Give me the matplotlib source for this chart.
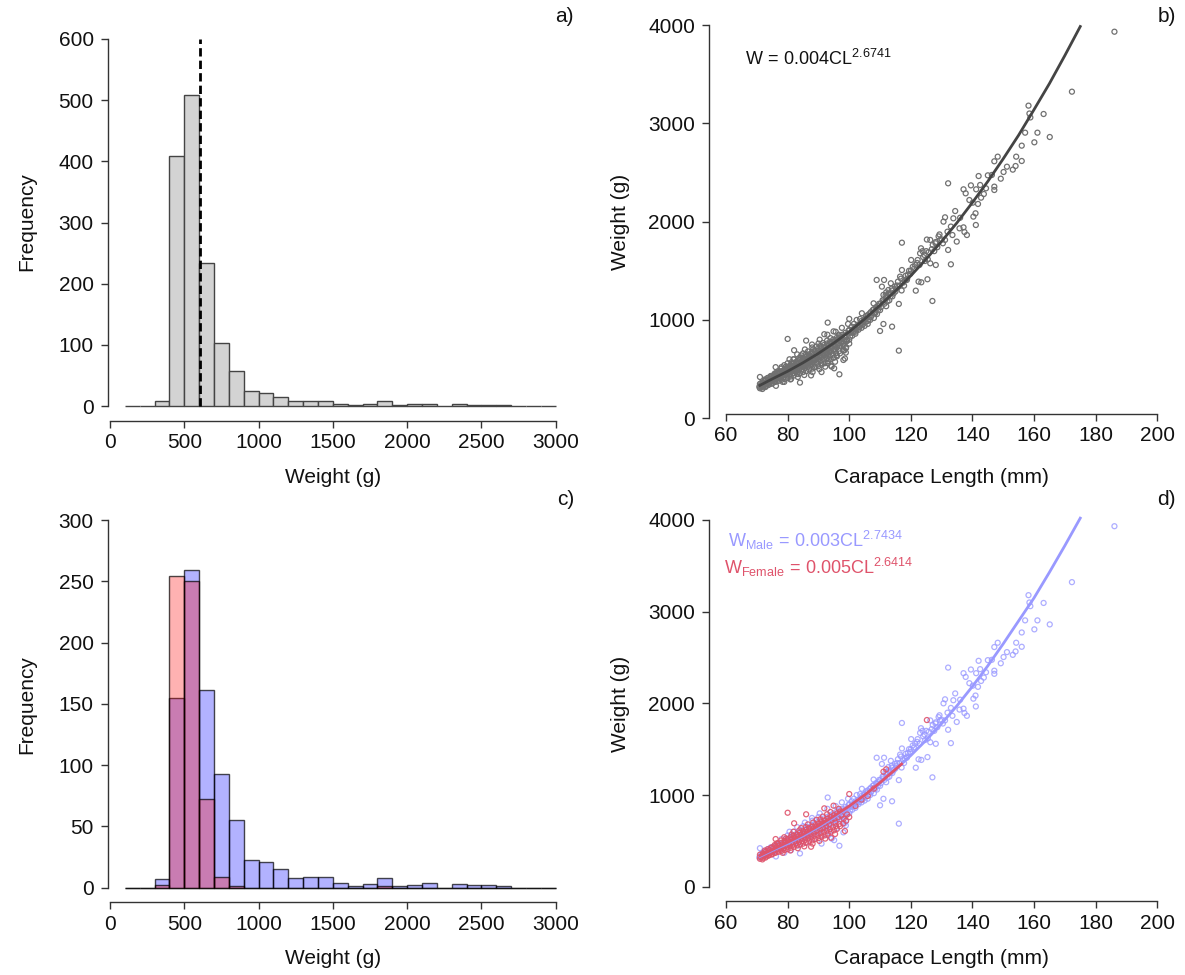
import matplotlib
matplotlib.use("Agg")
import matplotlib.pyplot as plt
import numpy as np

plt.rcParams["font.family"] = ["Liberation Sans", "DejaVu Sans"]
plt.rcParams["mathtext.fontset"] = "custom"
plt.rcParams["mathtext.rm"] = "Liberation Sans"
plt.rcParams["mathtext.it"] = "Liberation Sans:italic"

# ---- histogram data (bins of 100 g from 100 to 3000 g) ----
bin_left = list(range(100, 3000, 100))
count_all = [0, 0, 9, 409, 509, 233, 103, 57, 24, 22, 15, 8, 9, 9, 4, 1, 3, 9,
             1, 3, 4, 0, 3, 2, 2, 1, 0, 0, 0]
count_male = [0, 0, 7, 155, 259, 161, 93, 55, 23, 21, 15, 8, 9, 9, 4, 1, 3, 8,
              1, 2, 4, 0, 3, 2, 2, 1, 0, 0, 0]
count_female = [0, 0, 2, 254, 250, 72, 9, 1, 0, 0, 0, 0, 0, 0, 0, 0, 0, 1,
                0, 0, 0, 0, 0, 0, 0, 0, 0, 0, 0]
mean_weight = 605

# ---- length-weight points (CL mm, W g) ----
female_points = [
    (71, 305), (71, 350), (71.5, 330), (72, 315), (72, 365), (72.5, 340), (73, 330),
    (73, 385), (73.5, 355), (74, 345), (74, 400), (74.5, 370),
    (75, 355), (75, 430), (75.5, 395), (76, 370), (76, 445), (76.1, 520), (76.5, 410),
    (77, 380), (77, 465), (77.5, 425), (78, 390), (78, 480), (78.5, 440), (79, 400),
    (79, 500), (79.5, 455),
    (80, 410), (80, 520), (80, 807), (80.5, 465), (81, 425), (81, 540), (81.5, 485),
    (82, 435), (82, 555), (82.1, 692), (82.5, 500), (83, 450), (83, 570), (83.5, 515),
    (84, 460), (84, 590), (84.5, 530),
    (85, 470), (85, 605), (85.5, 545), (86, 480), (86, 620), (86, 790), (86.5, 560),
    (87, 495), (87, 640), (87.5, 575), (87.6, 436), (88, 505), (88, 655), (88.5, 590),
    (89, 520), (89, 670), (89.5, 610),
    (90, 530), (90, 690), (90.5, 625), (91, 545), (91, 705), (91.5, 640), (91.9, 855),
    (92, 560), (92, 725), (92.5, 660), (93, 580), (93, 745), (93.5, 680), (94, 600),
    (94, 760), (94.1, 535), (94.9, 884),
    (95, 615), (95, 780), (95.5, 700), (96, 630), (96, 800), (97, 660), (97, 820),
    (98, 690), (98.6, 608), (99, 720), (100, 760), (100, 1011),
    (102, 880), (104, 950), (106, 990), (108, 1070), (111.1, 1255), (112, 1281),
    (125.2, 1818),
    (71.2, 322), (71.8, 298), (72.3, 352), (72.8, 318), (73.2, 362), (73.7, 338),
    (74.2, 372), (74.8, 352), (75.2, 412), (75.7, 368), (76.3, 428), (76.8, 392),
    (77.2, 448), (77.8, 404), (78.2, 462), (78.7, 418), (79.2, 478), (79.8, 436),
    (80.2, 496), (80.7, 448), (81.2, 512), (81.7, 458), (82.2, 528), (82.7, 472),
    (83.2, 546), (83.7, 488), (84.2, 562), (84.7, 498), (85.2, 578), (85.7, 512),
    (86.2, 592), (86.7, 528), (87.2, 612), (87.7, 540), (88.2, 628), (88.7, 556),
    (89.2, 646), (89.7, 566), (90.2, 662), (90.7, 584), (91.2, 678), (91.7, 598),
    (92.2, 694), (92.7, 612), (93.2, 712), (93.7, 628), (94.2, 728), (94.7, 648),
    (95.2, 742), (95.7, 662), (96.3, 758), (96.8, 684), (97.4, 776), (98.2, 742),
    (99.3, 788),
    (73.6, 410), (75.8, 455), (77.9, 505), (79.4, 525), (81.3, 570), (83.8, 615),
    (85.9, 650), (88.3, 700), (90.6, 735), (92.8, 790), (78.4, 370), (80.9, 395),
    (83.3, 420), (85.4, 440), (88.1, 470), (90.3, 500), (92.2, 525), (95.4, 575),
    (72.6, 395), (74.6, 425), (76.6, 475), (78.9, 540), (81.9, 600), (84.4, 640),
    (86.6, 680), (89.4, 730), (91.4, 765), (93.9, 815), (96.6, 850),
]

male_points = [
    (70.8, 320), (71, 420), (71.5, 360), (72, 340), (72.5, 380), (73, 350), (73.5, 410),
    (74, 370), (74.5, 430), (75, 380), (75.5, 440), (76, 400), (76.5, 460), (77, 410),
    (77.5, 470), (78, 430), (78, 520), (78.5, 480), (79, 440), (79.5, 500), (80, 450),
    (80, 560), (80.5, 510), (81, 470), (81.5, 530), (82, 480), (82, 600), (82.5, 540),
    (83, 500), (83.5, 560), (84, 510), (84, 363), (84.5, 580), (85, 530), (85, 660),
    (85.5, 600), (86, 540), (86.5, 610), (87, 560), (87.5, 630), (88, 570), (88, 720),
    (88.5, 650), (89, 590), (89.5, 660), (90, 600), (90, 760), (90.5, 680), (91, 470),
    (91, 620), (91.5, 700), (92, 640), (92.5, 720), (93, 560), (93, 660), (93, 973),
    (93.5, 740), (94, 680), (94.3, 525), (94.5, 760), (95, 700), (95.1, 508),
    (95.5, 780), (96, 720), (96.8, 447), (96.5, 800), (97, 740), (97.5, 820), (98, 760),
    (98.1, 593), (98.5, 840), (98.9, 668), (98.9, 712), (99, 780), (99.5, 860),
    (100, 800), (100, 900),
    (71.3, 335), (72.2, 362), (72.9, 392), (73.8, 378), (74.3, 405), (75.3, 415),
    (75.9, 385), (76.7, 435), (77.3, 450), (77.7, 420), (78.6, 455), (79.3, 470),
    (79.8, 520), (80.3, 485), (80.8, 540), (81.3, 500), (81.8, 560), (82.3, 515),
    (82.8, 575), (83.3, 530), (83.8, 595), (84.3, 545), (84.8, 615), (85.3, 560),
    (85.8, 630), (86.3, 575), (86.8, 650), (87.3, 590), (87.8, 670), (88.3, 605),
    (88.8, 690), (89.3, 625), (89.8, 705), (90.3, 640), (90.8, 725), (91.3, 655),
    (91.8, 745), (92.3, 670), (92.8, 760), (93.3, 690), (93.8, 780), (94.3, 710),
    (94.8, 800), (95.3, 730), (95.8, 815), (96.3, 745), (96.9, 835), (97.3, 765),
    (97.8, 850), (98.3, 780), (98.8, 870), (99.3, 800), (99.8, 890),
    (76.2, 330), (78.9, 370), (81.1, 400), (83.6, 450), (86.1, 480), (88.6, 520),
    (90.9, 560), (93.4, 600), (95.9, 640), (98.4, 690), (80.6, 600), (83.1, 650),
    (85.6, 700), (87.9, 750), (90.4, 800), (92.9, 850), (95.6, 880), (97.6, 920),
    (99.6, 960),
    (100.3, 830), (100.6, 870), (100.8, 932), (101, 840), (101, 900), (101.3, 880),
    (101.5, 960), (101.8, 910), (102, 860), (102, 930), (102.3, 895), (102.4, 1000),
    (102.7, 940), (103, 900), (103, 950), (103.3, 925), (103.5, 1010), (103.8, 965),
    (104, 920), (104, 990), (104.1, 1068), (104.3, 950), (104.5, 980), (104.8, 1000),
    (105, 940), (105, 1010), (105.3, 980), (105.5, 1040), (105.8, 1025), (106, 960),
    (106, 1050), (106.3, 1005), (106.6, 1065), (106.8, 1000), (107, 1030), (107, 1080),
    (107.3, 1045), (107.6, 1100), (107.9, 1169), (108, 1020), (108, 1110),
    (108.3, 1080), (108.4, 1068), (108.7, 1130), (108.9, 1407), (109, 1060),
    (109, 1120), (109.3, 1100), (109.5, 1140), (109.7, 1165), (110, 888), (110, 1100),
    (110, 1160), (110.3, 1130), (110.6, 1339), (110.8, 1200), (111, 1180), (111, 1200),
    (111.1, 959), (111.3, 1407), (111.4, 1165), (111.8, 1250), (112, 1140),
    (112, 1220), (112.2, 1237), (112.4, 1190), (112.7, 1305), (112.9, 1270),
    (113, 1200), (113, 1260), (113.4, 1240), (113.5, 1373), (113.8, 1320),
    (113.9, 932), (114, 1240), (114, 1300), (114.4, 1270), (114.8, 1340), (115, 1290),
    (115.3, 1320), (115.5, 1350), (115.8, 1390), (116.1, 688), (116.1, 1163),
    (116.4, 1350), (116.5, 1441), (116.8, 1420), (117, 1300), (117.1, 1508),
    (117.1, 1786), (117.5, 1380), (117.8, 1349), (118, 1400), (118.3, 1450),
    (118.7, 1407), (118.8, 1420), (119, 1460), (119.4, 1500), (119.8, 1470),
    (120, 1500), (120.1, 1610), (120.6, 1540),
    (121, 1520), (121.4, 1560), (121.6, 1298), (122, 1580), (122.2, 1610),
    (122.5, 1390), (122.8, 1560), (123, 1678), (123.3, 1729), (123.4, 1383),
    (123.8, 1700), (124, 1640), (124.4, 1661), (124.6, 1600), (125, 1700),
    (125.4, 1414), (125.5, 1617), (125.8, 1690), (126.3, 1576), (126.3, 1814),
    (126.8, 1720), (127, 1193), (127.1, 1763), (127.6, 1700), (128, 1780),
    (128.1, 1559), (128.1, 1793), (128.6, 1740), (129, 1850), (129.3, 1870),
    (129.5, 1814), (130, 1820), (130.4, 1780), (130.6, 2000), (131.1, 1814),
    (131.1, 2044), (131.9, 1898), (132.1, 1712), (132.1, 2390), (133, 1566),
    (133, 1950), (133.5, 1864), (133.8, 2034), (134.4, 2108), (134.9, 1797),
    (135.8, 1932), (136, 2040), (137.1, 1942), (137.1, 2329), (137.4, 1895),
    (137.8, 2288), (138.2, 1864), (139, 2220), (139.5, 2369), (140.1, 2193),
    (140.3, 2051),
    (141, 2085), (141.1, 1966), (141.2, 2329), (141.8, 2180), (142, 2464), (142.5, 2373),
    (142.8, 2244), (143.7, 2281), (144.4, 2339), (145, 2471), (146.3, 2475),
    (147.1, 2356), (147.1, 2322), (147.1, 2614), (148.2, 2661), (149.2, 2437),
    (150.1, 2505), (151.2, 2559), (153.1, 2529), (154, 2566), (154.2, 2661),
    (156, 2617), (156, 2773), (157.1, 2905), (158.2, 3180), (158.5, 3100),
    (158.8, 3060), (160.1, 2807), (161.1, 2905), (163.1, 3095), (165.1, 2861),
    (172.3, 3322), (186.1, 3932),
]

# ---- fitted curves ----
fit_cl = [71, 75, 80, 85, 90, 95, 100, 105, 110, 115, 120, 125, 130, 135, 140, 145,
          150, 155, 160, 165, 170, 175]
fit_all_w = [335, 400, 478, 565, 660, 765, 880, 1010, 1150, 1295, 1450, 1620, 1800,
             1990, 2195, 2410, 2640, 2880, 3140, 3405, 3690, 3985]
fit_male_w = [330, 395, 470, 555, 650, 755, 867, 995, 1135, 1280, 1432, 1600, 1780,
              1975, 2185, 2410, 2650, 2900, 3150, 3430, 3720, 4020]
fit_female_cl = [71, 75, 80, 85, 90, 95, 100, 105, 110, 115, 117]
fit_female_w = [340, 405, 485, 570, 665, 770, 880, 1000, 1135, 1280, 1338]

MALE_COL = "#9999FF"
FEMALE_COL = "#DF536B"
AXIS_COL = "#333333"

W_PX, H_PX = 1185, 975
fig = plt.figure(figsize=(W_PX / 100, H_PX / 100), dpi=100)


def add_axes(left, right, top, bottom):
    return fig.add_axes([left / W_PX, 1 - bottom / H_PX,
                         (right - left) / W_PX, (bottom - top) / H_PX])


def r_style(ax, xticks, yticks):
    for s in ("top", "right"):
        ax.spines[s].set_visible(False)
    for s in ("left", "bottom"):
        ax.spines[s].set_color(AXIS_COL)
        ax.spines[s].set_linewidth(1)
    ax.spines["left"].set_bounds(yticks[0], yticks[-1])
    ax.spines["bottom"].set_bounds(xticks[0], xticks[-1])
    ax.set_xticks(xticks)
    ax.set_yticks(yticks)
    ax.tick_params(direction="out", length=5, width=1, color=AXIS_COL,
                   labelsize=15, labelcolor="#111111")
    ax.tick_params(axis="x", pad=4)
    ax.tick_params(axis="y", pad=5)


# ---- a) all weights ----
ax_a = add_axes(107.6, 573, 24.3, 420.7)
ax_a.bar(bin_left, count_all, width=100, align="edge", color="#D3D3D3",
         edgecolor="#444444", linewidth=1)
ax_a.vlines(mean_weight, 0, 600, colors="black", linewidth=2, linestyles=(0, (3, 1.5)))
ax_a.set_xlim(-16, 3116)
ax_a.set_ylim(-24, 624)
r_style(ax_a, list(range(0, 3001, 500)), list(range(0, 601, 100)))

# ---- c) weights by sex ----
ax_c = add_axes(107.6, 573, 505.3, 902.4)
ax_c.bar(bin_left, count_male, width=100, align="edge", color=(0, 0, 1, 0.3),
         edgecolor=(0, 0, 0, 0.7), linewidth=1)
ax_c.bar(bin_left, count_female, width=100, align="edge", color=(1, 0, 0, 0.3),
         edgecolor=(0, 0, 0, 0.7), linewidth=1)
ax_c.set_xlim(-16, 3116)
ax_c.set_ylim(-12, 312)
r_style(ax_c, list(range(0, 3001, 500)), list(range(0, 301, 50)))

# ---- b) length-weight, all ----
m_cl, m_w = zip(*male_points)
f_cl, f_w = zip(*female_points)

ax_b = add_axes(708.8, 1174.5, 9.3, 434.0)
ax_b.scatter(list(m_cl) + list(f_cl), list(m_w) + list(f_w), s=13,
             facecolors="none", edgecolors="#707070", linewidths=0.9)
ax_b.plot(fit_cl, fit_all_w, color="#444444", linewidth=2)
ax_b.set_xlim(54.4, 205.6)
ax_b.set_ylim(-160, 4160)
r_style(ax_b, list(range(60, 201, 20)), list(range(0, 4001, 1000)))
ax_b.spines["bottom"].set_position(("data", 44))
ax_b.text(66, 3660, r"$\mathrm{W\,=\,0.004CL^{2.6741}}$", fontsize=13,
          ha="left", va="center", color="#111111")

# ---- d) length-weight by sex ----
ax_d = add_axes(708.8, 1174.5, 505.3, 901.4)
ax_d.scatter(m_cl, m_w, s=13, facecolors="none", edgecolors=MALE_COL,
             linewidths=0.9, alpha=0.8)
ax_d.scatter(f_cl, f_w, s=13, facecolors="none", edgecolors=FEMALE_COL,
             linewidths=0.9, alpha=0.9)
ax_d.plot(fit_cl, fit_male_w, color=MALE_COL, linewidth=2)
ax_d.plot(fit_female_cl, fit_female_w, color=FEMALE_COL, linewidth=2)
ax_d.set_xlim(54.4, 205.6)
ax_d.set_ylim(-160, 4160)
r_style(ax_d, list(range(60, 201, 20)), list(range(0, 4001, 1000)))
ax_d.text(60.6, 3780, r"$\mathrm{W_{Male}\,=\,0.003CL^{2.7434}}$", fontsize=13,
          ha="left", va="center", color=MALE_COL)
ax_d.text(59.4, 3480, r"$\mathrm{W_{Female}\,=\,0.005CL^{2.6414}}$", fontsize=13,
          ha="left", va="center", color=FEMALE_COL)

# ---- axis titles and panel letters ----
def ftext(x, y, s, **kw):
    fig.text(x / W_PX, 1 - y / H_PX, s, fontsize=15, color="#111111", **kw)

ftext(27, 222, "Frequency", rotation=90, ha="center", va="center")
ftext(27, 705, "Frequency", rotation=90, ha="center", va="center")
ftext(333, 478, "Weight (g)", ha="center", va="center")
ftext(333, 958, "Weight (g)", ha="center", va="center")
ftext(621, 222, "Weight (g)", rotation=90, ha="center", va="center")
ftext(621, 704, "Weight (g)", rotation=90, ha="center", va="center")
ftext(941, 478, "Carapace Length (mm)", ha="center", va="center")
ftext(941, 958, "Carapace Length (mm)", ha="center", va="center")
ftext(574, 17, "a)", ha="right", va="center")
ftext(1176, 17, "b)", ha="right", va="center")
ftext(574, 500, "c)", ha="right", va="center")
ftext(1176, 500, "d)", ha="right", va="center")

fig.savefig("out.png", dpi=100, facecolor="white")
